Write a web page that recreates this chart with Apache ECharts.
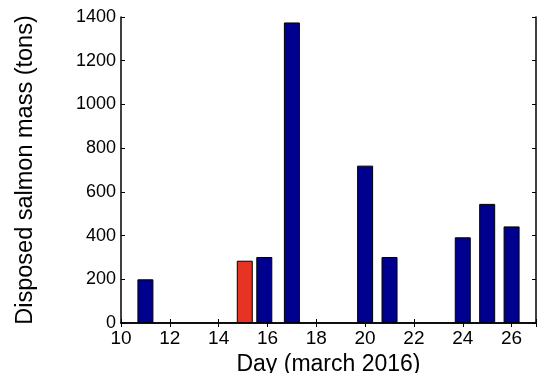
<!DOCTYPE html>
<html>
<head>
<meta charset="utf-8">
<script src="https://cdn.jsdelivr.net/npm/echarts@6/dist/echarts.min.js"></script>
<style>
html,body{margin:0;padding:0;background:#fff;}
#chart{width:537px;height:373px;}
</style>
</head>
<body>
<div id="chart"></div>
<script>
// Data
var days = [11, 15.07, 15.87, 17, 20, 21, 24, 25, 26];
var masses = [200, 285, 302, 1375, 720, 302, 392, 545, 442];
var highlighted = [false, true, false, false, false, false, false, false, false];
var xTicks = [10, 12, 14, 16, 18, 20, 22, 24, 26];
var yTicks = [0, 200, 400, 600, 800, 1000, 1200, 1400];

var BLUE = '#00008f', RED = '#e63323';
var font = 'Liberation Sans, Arial, Helvetica, sans-serif';

var data = days.map(function (d, i) {
  return { value: [d, masses[i]], itemStyle: { color: highlighted[i] ? RED : BLUE } };
});

var axisLine = { show: true, lineStyle: { color: '#000', width: 1.5 } };
var chart = echarts.init(document.getElementById('chart'));
chart.setOption({
  animation: false,
  grid: { left: 121, top: 17, right: 1, bottom: 50, containLabel: false, outerBoundsMode: 'none' },
  xAxis: [{
    type: 'value', min: 10, max: 27, interval: 2, position: 'bottom',
    name: 'Day (march 2016)', nameLocation: 'middle', nameGap: 26,
    nameTextStyle: { fontFamily: font, fontSize: 23, color: '#000' },
    axisLine: axisLine,
    axisTick: { show: true, inside: true, length: 4, lineStyle: { color: '#000', width: 1 } },
    axisLabel: { fontFamily: font, fontSize: 19, color: '#000', margin: 6,
      formatter: function (v) { return xTicks.indexOf(v) >= 0 ? String(v) : ''; } },
    splitLine: { show: false }
  }, {
    type: 'value', min: 10, max: 27, interval: 2, position: 'top',
    axisLine: axisLine,
    axisTick: { show: true, inside: true, length: 4, lineStyle: { color: '#000', width: 1 } },
    axisLabel: { show: false }, splitLine: { show: false }
  }],
  yAxis: [{
    type: 'value', min: 0, max: 1400, interval: 200, position: 'left',
    name: 'Disposed salmon mass (tons)', nameLocation: 'middle', nameGap: 83,
    nameTextStyle: { fontFamily: font, fontSize: 23.5, color: '#000' },
    axisLine: axisLine,
    axisTick: { show: true, inside: true, length: 4, lineStyle: { color: '#000', width: 1 } },
    axisLabel: { fontFamily: font, fontSize: 18, color: '#000', margin: 5,
      formatter: function (v) { return yTicks.indexOf(v) >= 0 ? String(v) : ''; } },
    splitLine: { show: false }
  }, {
    type: 'value', min: 0, max: 1400, interval: 200, position: 'right',
    axisLine: axisLine,
    axisTick: { show: true, inside: true, length: 4, lineStyle: { color: '#000', width: 1 } },
    axisLabel: { show: false }, splitLine: { show: false }
  }],
  series: [{
    type: 'bar', xAxisIndex: 0, yAxisIndex: 0,
    barWidth: 16,
    itemStyle: { borderColor: '#000', borderWidth: 1 },
    data: data
  }]
});
</script>
</body>
</html>
